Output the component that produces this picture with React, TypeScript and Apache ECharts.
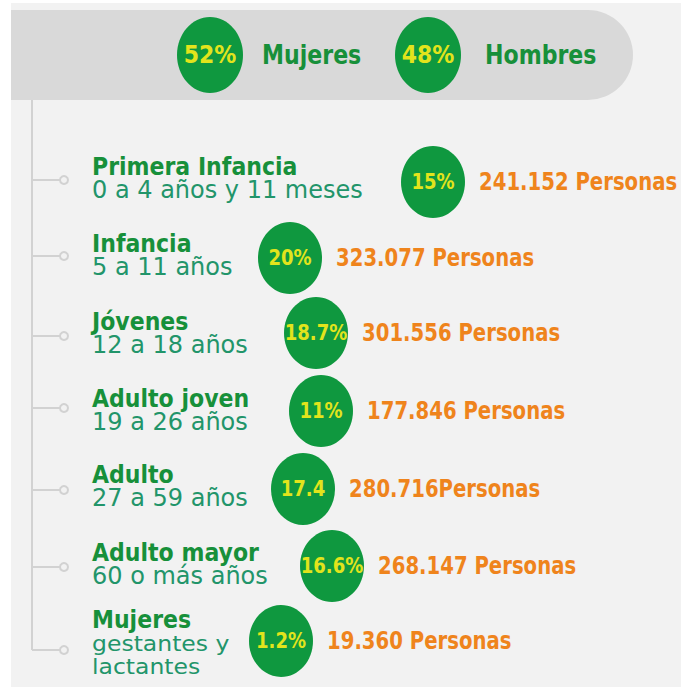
import React, { useEffect, useRef } from "react";
import * as echarts from "echarts";

// ---- data ----
const genderLabels = ["Mujeres", "Hombres"];
const genderPct = ["52%", "48%"];
const groupTitles = ["Primera Infancia", "Infancia", "Jóvenes", "Adulto joven", "Adulto", "Adulto mayor", "Mujeres"];
const groupRanges = [
  ["0 a 4 años y 11 meses"],
  ["5 a 11 años"],
  ["12 a 18 años"],
  ["19 a 26 años"],
  ["27 a 59 años"],
  ["60 o más años"],
  ["gestantes y", "lactantes"],
];
const groupPct = ["15%", "20%", "18.7%", "11%", "17.4", "16.6%", "1.2%"];
const groupPeople = [
  "241.152 Personas",
  "323.077 Personas",
  "301.556 Personas",
  "177.846 Personas",
  "280.716Personas",
  "268.147 Personas",
  "19.360 Personas",
];

// ---- layout ----
const genderCircleX = [210, 428];
const genderLabelX = [262, 485];
const rowTitleY = [166, 243, 321, 398, 474, 552, 619];
const rowBranchY = [180, 256, 336, 408, 490, 567, 650];
const rowCircleX = [433, 290, 316, 321, 303, 332, 281];
const rowCircleY = [182, 258, 333, 411, 489, 566, 641];

const FONT = "'DejaVu Sans', sans-serif";
const GREEN = "#0f983f";
const TITLE = "#17903a";
const SUB = "#22956a";
const YELLOW = "#e2e41c";
const ORANGE = "#ef841c";
const LINE = "#d2d2d2";
const PANEL = "#f2f2f2";

function txt(text: string, x: number, y: number, size: number, weight: string, fill: string, align = "left", sx = 1) {
  return {
    type: "text",
    x,
    y,
    scaleX: sx,
    silent: true,
    style: { text, x: 0, y: 0, fontSize: size, fontWeight: weight, fontFamily: FONT, fill, align, verticalAlign: "middle" },
  };
}

export default function App() {
  const ref = useRef<HTMLDivElement>(null);
  useEffect(() => {
    if (!ref.current) return;
    const chart = echarts.init(ref.current, null, { renderer: "svg" });
    const els: any[] = [];
    els.push({ type: "rect", shape: { x: 11, y: 3, width: 670, height: 684 }, style: { fill: PANEL } });
    els.push({ type: "rect", shape: { x: 11, y: 10, width: 622, height: 90, r: [0, 45, 45, 0] }, style: { fill: "#d9d9d9" } });
    els.push({ type: "line", shape: { x1: 32, y1: 100, x2: 32, y2: rowBranchY[rowBranchY.length - 1] }, style: { stroke: LINE, lineWidth: 2 } });

    genderLabels.forEach((lab, i) => {
      const cx = genderCircleX[i];
      els.push({ type: "ellipse", shape: { cx, cy: 55, rx: 33, ry: 38 }, style: { fill: GREEN } });
      els.push(txt(genderPct[i], cx, 55, 25, "bold", YELLOW, "center", 0.88));
      els.push(txt(lab, genderLabelX[i], 55, 26, "bold", TITLE, "left", 0.85));
    });

    groupTitles.forEach((t, i) => {
      const by = rowBranchY[i];
      els.push({ type: "line", shape: { x1: 32, y1: by, x2: 60, y2: by }, style: { stroke: LINE, lineWidth: 2 } });
      els.push({ type: "circle", shape: { cx: 64, cy: by, r: 4 }, style: { fill: PANEL, stroke: LINE, lineWidth: 2 } });
      const ty = rowTitleY[i];
      els.push(txt(t, 92, ty, 24.5, "bold", TITLE, "left", 0.9));
      const lines = groupRanges[i];
      const multi = lines.length > 1;
      lines.forEach((s, j) => {
        els.push(txt(s, 92, ty + 24 + j * 23, multi ? 21 : 24, "normal", SUB, "left", multi ? 1.12 : 1.0));
      });
      const cx = rowCircleX[i];
      const cy = rowCircleY[i];
      els.push({ type: "ellipse", shape: { cx, cy, rx: 32, ry: 36 }, style: { fill: GREEN } });
      els.push(txt(groupPct[i], cx, cy, 20.5, "bold", YELLOW, "center", 0.88));
      els.push(txt(groupPeople[i], cx + 46, cy, 24, "bold", ORANGE, "left", 0.82));
    });

    chart.setOption({ animation: false, graphic: { elements: els } });
    return () => chart.dispose();
  }, []);
  return <div ref={ref} style={{ position: "fixed", left: 0, top: 0, width: 681, height: 687, background: "#fff" }} />;
}
